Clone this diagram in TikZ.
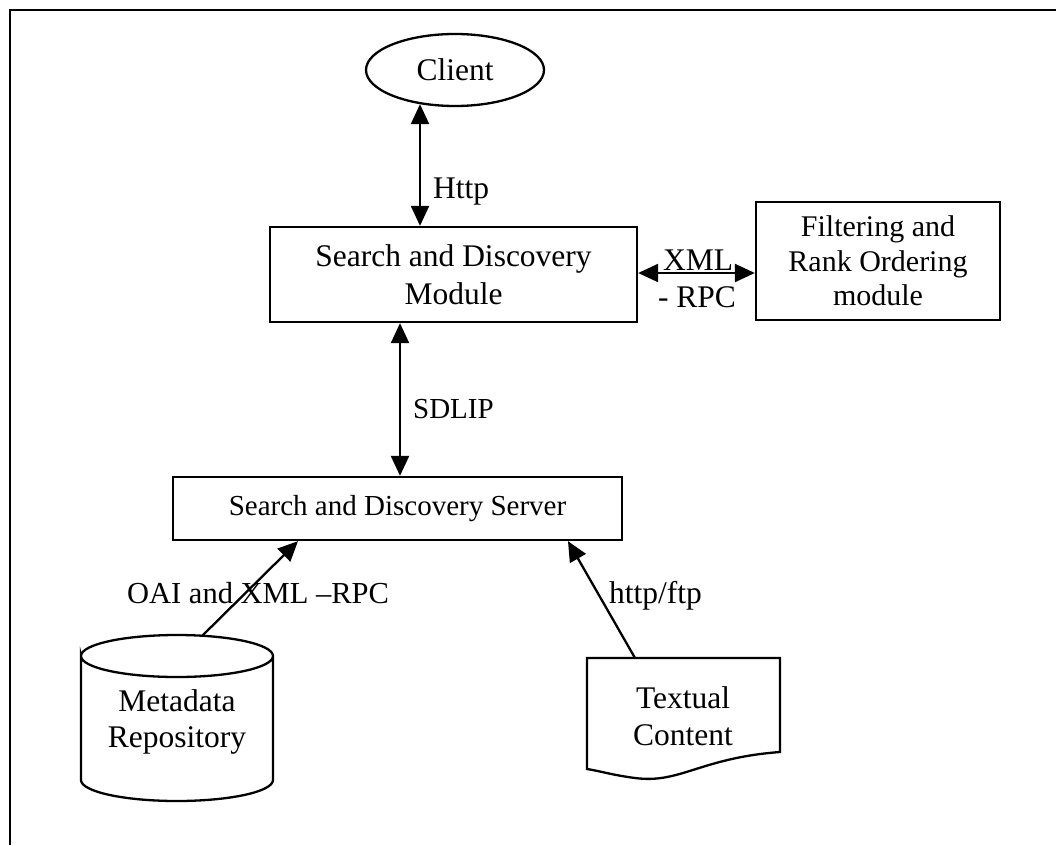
\documentclass[tikz,border=0pt]{standalone}
\usepackage{fontspec}
\setmainfont{Liberation Serif}
\usetikzlibrary{arrows.meta,calc,shapes.geometric}
\newcommand\diagfont{\fontsize{31.5}{37}\selectfont}
\newcommand\smallerfont{\fontsize{29}{34}\selectfont}
\newcommand\midfont{\fontsize{30}{34.5}\selectfont}
\begin{document}
\begin{tikzpicture}[x=1pt,y=-1pt,line width=2.3pt,
  every node/.style={font=\diagfont},
  box/.style={draw,rectangle,inner sep=0pt,align=center},
  plain/.style={inner sep=0pt,align=center},
  biarr/.style={{Triangle[length=20pt,width=18pt]}-{Triangle[length=20pt,width=18pt]}},
  arr/.style={-{Triangle[length=20pt,width=18pt]}},
  lbl/.style={inner sep=0pt,anchor=base west}]
\useasboundingbox (0,0) rectangle (1056,845);
\draw[line width=2.8pt] (10,845) -- (10,10) -- (1056,10);

% nodes
\node[draw,ellipse,inner sep=0pt,minimum width=178pt,minimum height=72pt] (client) at (455,70) {Client};
\node[box,minimum width=367pt,minimum height=95pt,font={\fontsize{31.5}{38}\selectfont}] (sdm) at (453.5,274.5) {Search and Discovery\\Module};
\node[box,minimum width=244pt,minimum height=118pt,font=\midfont] (fro) at (878,261) {Filtering and\\Rank Ordering\\module};
\node[box,minimum width=449pt,minimum height=63pt,font=\smallerfont] (sds) at (397.5,508.5) {Search and Discovery Server};

% cylinder
\draw (81,656) .. controls (81,644.4) and (124,635) .. (177,635)
      .. controls (230,635) and (273,644.4) .. (273,656)
      .. controls (273,667.6) and (230,677) .. (177,677)
      .. controls (124,677) and (81,667.6) .. (81,656) -- (81,780)
      .. controls (81,791.6) and (124,801) .. (177,801)
      .. controls (230,801) and (273,791.6) .. (273,780) -- (273,656);
\node[plain,font={\fontsize{31.5}{36}\selectfont}] (meta) at (177,722) {Metadata\\Repository};
\coordinate (mtop) at (202,636);

% document
\draw (587,658) -- (780,658) -- (780,752)
      .. controls (700,758) and (680,784) .. (635,778)
      .. controls (612,775) and (600,771) .. (587,769) -- cycle;
\node[plain] (text) at (683,716) {Textual\\Content};
\coordinate (dtop) at (635,658);

% connectors
\draw[biarr] ($(client.south)+(-35,-3)$) -- ($(sdm.north)+(-33.5,0)$);
\draw[biarr] ($(sdm.east)+(0,-1.5)$) -- ($(fro.west)+(0,12)$);
\draw[biarr] ($(sdm.south)+(-53.5,0)$) -- ($(sds.north)+(2.5,0)$);
\draw[arr] (mtop) -- ($(sds.south)+(-99.5,0)$);
\draw[arr] (dtop) -- ($(sds.south)+(170.5,0)$);

% labels
\node[lbl] (lhttp) at (432,198) {Http};
\node[inner sep=0pt,anchor=base] (lxml) at (698,270) {XML};
\node[inner sep=0pt,anchor=base] (lrpc) at (697,307) {- RPC};
\node[lbl,font=\smallerfont] (lsdlip) at (412,418) {SDLIP};
\node[lbl,font={\fontsize{30.5}{35}\selectfont}] (loai) at (126,603) {OAI and XML --RPC};
\node[lbl] (lftp) at (608,603) {http/ftp};
\end{tikzpicture}
\end{document}
